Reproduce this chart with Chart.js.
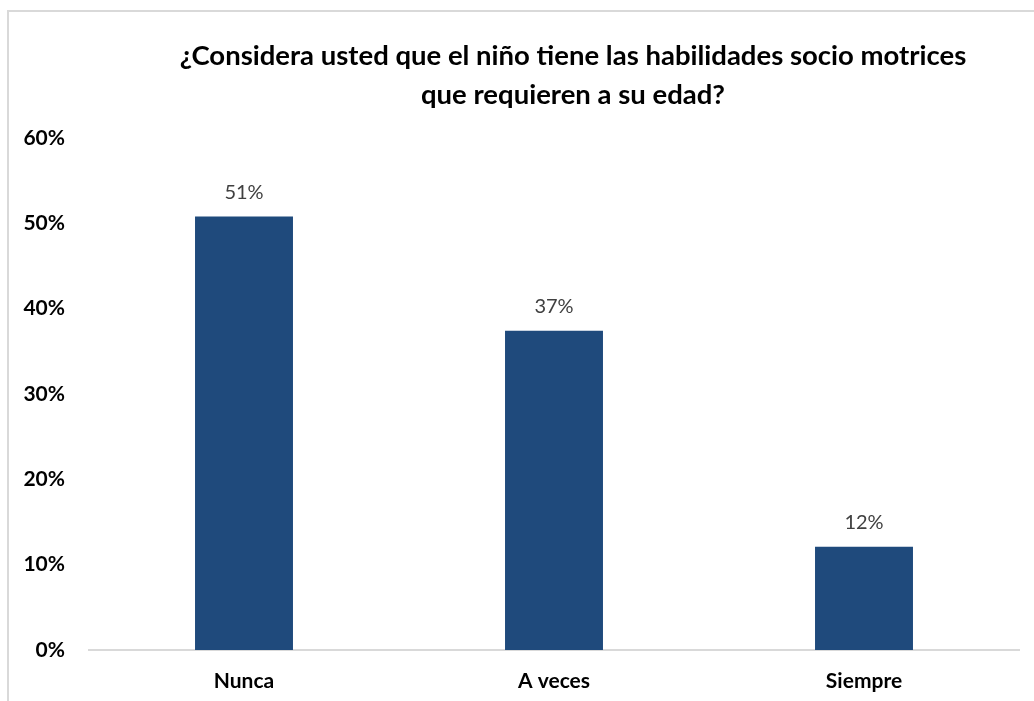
<!DOCTYPE html>
<html>
<head>
<meta charset="utf-8">
<script src="https://cdn.jsdelivr.net/npm/chart.js@4"></script>
<style>
  html, body { margin: 0; padding: 0; background: #fff; overflow: hidden; }
  #frame { position: absolute; left: 7px; top: 10px; width: 1200px; height: 900px;
           border-left: 2px solid #d9d9d9; border-top: 2px solid #d9d9d9; }
  #title { position: absolute; left: 123px; width: 900px; top: 35px; text-align: center;
           font-family: Lato, "Open Sans", sans-serif; font-weight: bold; font-size: 27.5px;
           line-height: 39px; color: #000; }
  #wrap { position: absolute; left: 0; top: 0; width: 1034px; height: 701px; }
</style>
</head>
<body>
<div id="frame"></div>
<div id="wrap"><canvas id="c" width="1034" height="701"></canvas></div>
<div id="title">¿Considera usted que el niño tiene las habilidades socio motrices<br>que requieren a su edad?</div>
<script>
const categories = ["Nunca", "A veces", "Siempre"];
const percentages = [50.8, 37.4, 12.1];
const yTicks = [0, 10, 20, 30, 40, 50, 60];

const barLabels = {
  id: 'barLabels',
  afterDatasetsDraw(chart) {
    const ctx = chart.ctx;
    const meta = chart.getDatasetMeta(0);
    ctx.save();
    ctx.font = '20px Lato, "Open Sans", sans-serif';
    ctx.fillStyle = '#404040';
    ctx.textAlign = 'center';
    ctx.textBaseline = 'bottom';
    meta.data.forEach((bar, i) => {
      ctx.fillText(Math.round(percentages[i]) + '%', bar.x, bar.y - 14);
    });
    ctx.restore();
  }
};

new Chart(document.getElementById('c'), {
  type: 'bar',
  data: {
    labels: categories,
    datasets: [{
      data: percentages,
      backgroundColor: '#1F4A7C',
      borderWidth: 0,
      barPercentage: 0.316,
      categoryPercentage: 1.0
    }]
  },
  options: {
    responsive: false,
    animation: false,
    devicePixelRatio: 1,
    layout: { padding: { top: 138, right: 15, left: 0, bottom: 0 } },
    plugins: { legend: { display: false }, tooltip: { enabled: false }, title: { display: false } },
    scales: {
      y: {
        min: 0, max: 60,
        afterFit(scale) { scale.width = 89; },
        afterBuildTicks(scale) { scale.ticks = yTicks.map(v => ({ value: v })); },
        grid: { display: false },
        border: { display: false },
        ticks: {
          padding: 16,
          color: '#000',
          font: { family: 'Lato, "Open Sans", sans-serif', size: 21, weight: 'bold' },
          callback: v => v + '%'
        }
      },
      x: {
        afterFit(scale) { scale.height = 51; },
        grid: { display: false },
        border: { display: true, color: '#d9d9d9', width: 2 },
        ticks: {
          padding: 11,
          color: '#000',
          font: { family: 'Lato, "Open Sans", sans-serif', size: 21, weight: 'bold' }
        }
      }
    }
  },
  plugins: [barLabels]
});
</script>
</body>
</html>
